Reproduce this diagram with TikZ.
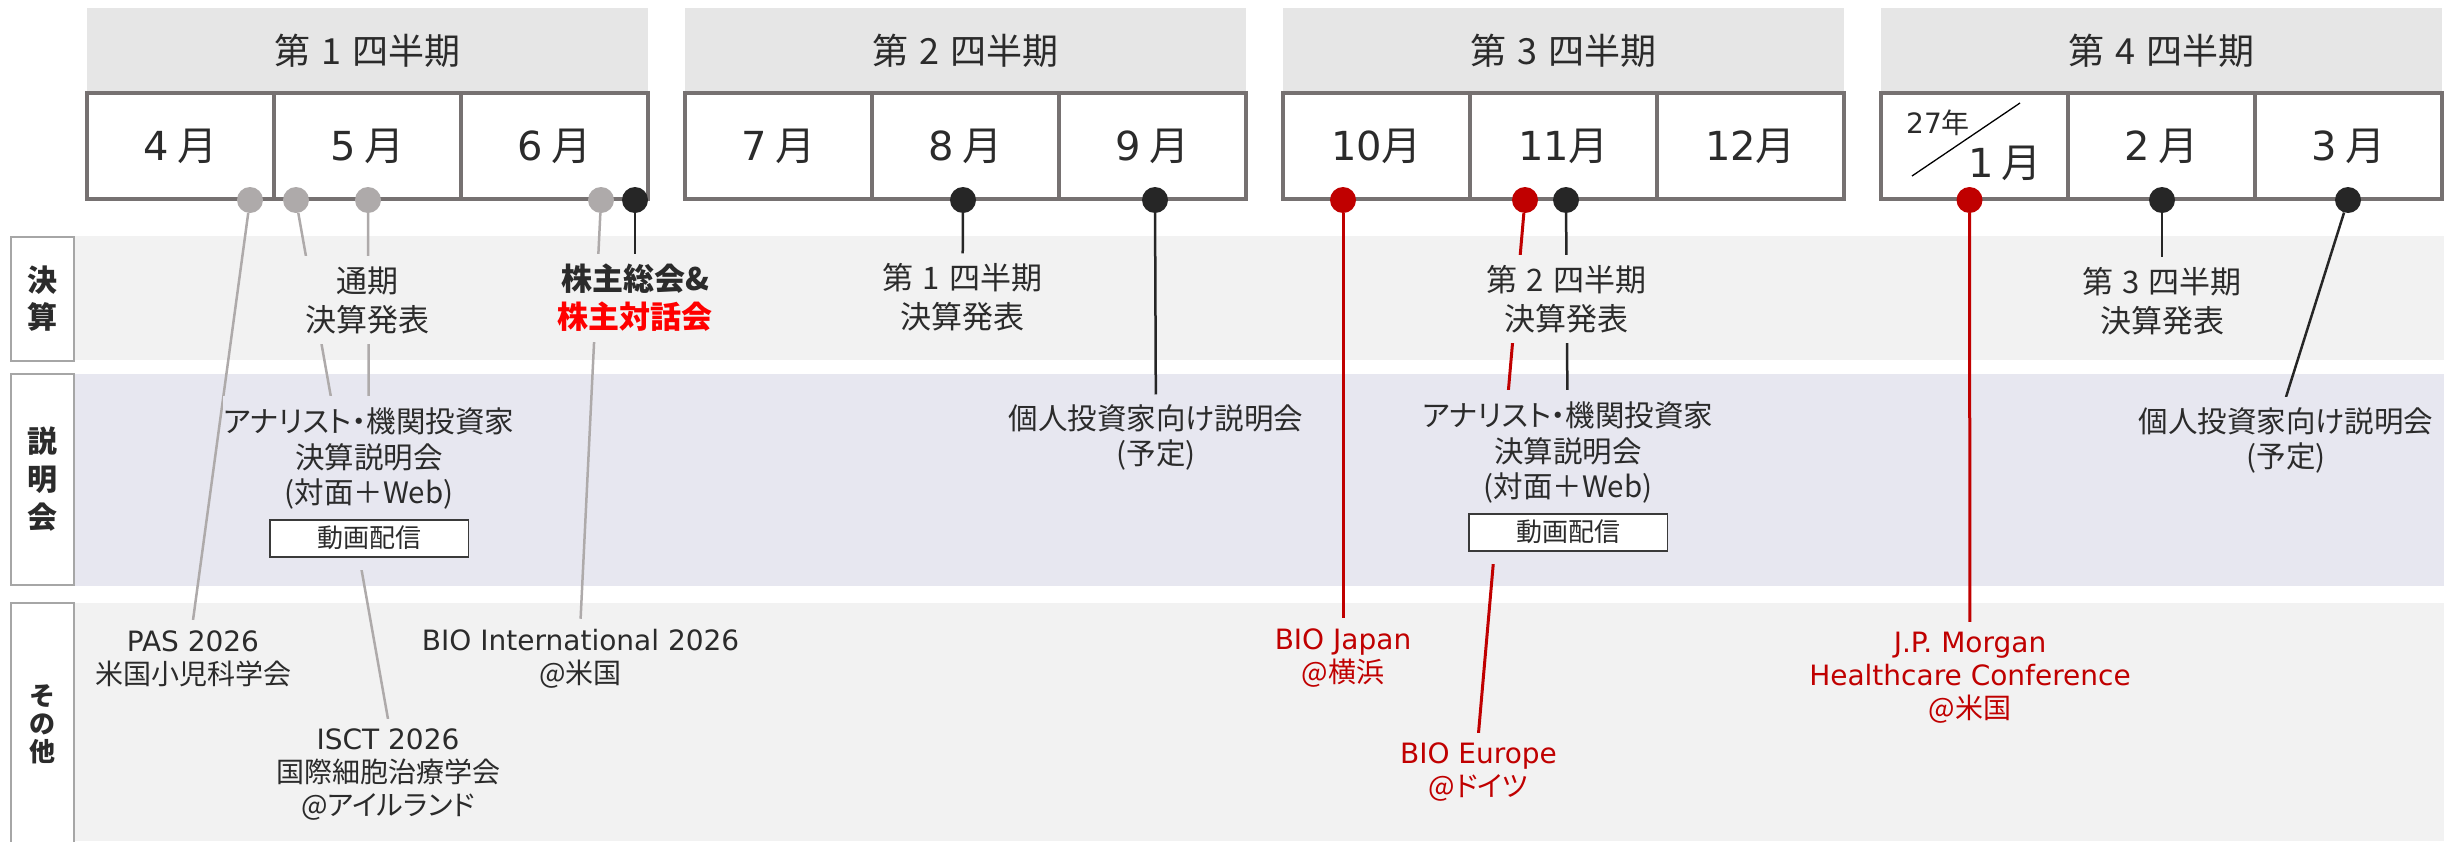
\documentclass[tikz,border=0pt]{standalone}
\usepackage{fontspec}
\setmainfont{Noto Sans CJK JP}[RawFeature=+palt]
\newfontfamily\lat{DejaVu Sans}

\definecolor{hdrgray}{HTML}{E6E6E6}
\definecolor{cellline}{HTML}{767171}
\definecolor{bandgray}{HTML}{F2F2F2}
\definecolor{bandblue}{HTML}{E7E7F0}
\definecolor{dotgray}{HTML}{AEAAAA}
\definecolor{dotblack}{HTML}{262626}
\definecolor{dotred}{HTML}{C00000}
\definecolor{kred}{HTML}{FF0000}
\definecolor{ink}{HTML}{2B2B2B}
\definecolor{boxline}{HTML}{A6A6A6}
\definecolor{boxdark}{HTML}{3A3A3A}

\pgfdeclarelayer{bands}
\pgfdeclarelayer{lines}
\pgfsetlayers{bands,lines,main}

\newcommand{\setfs}[2]{\fontsize{#1pt}{#2pt}\selectfont}
\newcommand{\douga}{\setlength{\fboxsep}{5.5pt}\setlength{\fboxrule}{1.5pt}%
  \fcolorbox{boxdark}{white}{\makebox[186pt]{\setfs{26}{30}\rule[-3pt]{0pt}{22pt}動画配信}}}

\begin{document}
\begin{tikzpicture}[x=1pt,y=-1pt]
	\tikzstyle{quarter}=[fill=hdrgray,minimum width=561pt,minimum height=85pt,inner sep=0pt,text=ink,font=\setfs{36}{40}]
	\tikzstyle{month}=[draw=cellline,line width=4pt,fill=white,minimum width=187pt,minimum height=106pt,inner sep=0pt,text=ink,font=\setfs{40}{44}]
	\tikzstyle{rowlab}=[draw=boxline,line width=1.7pt,fill=white,minimum width=63pt,inner sep=0pt,align=center,text=ink,font=\bfseries\setfs{30}{37}]
	\tikzstyle{gdot}=[circle,fill=dotgray,minimum size=26pt,inner sep=0pt]
	\tikzstyle{bdot}=[circle,fill=dotblack,minimum size=26pt,inner sep=0pt]
	\tikzstyle{rdot}=[circle,fill=dotred,minimum size=26pt,inner sep=0pt]
	\tikzstyle{kessan}=[fill=bandgray,align=center,inner sep=10pt,text=ink,font=\setfs{31}{39}]
	\tikzstyle{setsu}=[fill=bandblue,align=center,inner sep=10pt,text=ink,font=\setfs{29.5}{35}]
	\tikzstyle{other}=[fill=bandgray,align=center,inner sep=10pt,text=ink,font=\setfs{28}{33}]

	\useasboundingbox (0,0) rectangle (2453,841);

	% row bands
	\begin{pgfonlayer}{bands}
	\fill[bandgray] (74,236) rectangle (2444,360);
	\fill[bandblue] (74,374) rectangle (2444,586);
	\fill[bandgray] (74,603) rectangle (2444,841);
	\end{pgfonlayer}

	\node [rowlab,minimum height=124pt] (lab_kessan) at (42.5,299) {決\\算};
	\node [rowlab,minimum height=211pt,font=\bfseries\setfs{30}{38}] (lab_setsu) at (42.5,479.5) {説\\明\\会};
	\node [rowlab,minimum height=242pt,font=\bfseries\setfs{26}{28}] (lab_other) at (42.5,724) {そ\\の\\他};

	% quarters
	\node [quarter] (q1) at (367.5,50.5) {第\hspace{.3em}1\hspace{.3em}四半期};
	\node [quarter] (q2) at (965.5,50.5) {第\hspace{.3em}2\hspace{.3em}四半期};
	\node [quarter] (q3) at (1563.5,50.5) {第\hspace{.3em}3\hspace{.3em}四半期};
	\node [quarter] (q4) at (2161.5,50.5) {第\hspace{.3em}4\hspace{.3em}四半期};

	% months
	\node [month] (m4) at (180.5,146) {{\lat 4}\hspace{.2em}月};
	\node [month] (m5) at (367.5,146) {{\lat 5}\hspace{.2em}月};
	\node [month] (m6) at (554.5,146) {{\lat 6}\hspace{.2em}月};
	\node [month] (m7) at (778.5,146) {{\lat 7}\hspace{.2em}月};
	\node [month] (m8) at (965.5,146) {{\lat 8}\hspace{.2em}月};
	\node [month] (m9) at (1152.5,146) {{\lat 9}\hspace{.2em}月};
	\node [month] (m10) at (1376.5,146) {{\lat 10}月};
	\node [month] (m11) at (1563.5,146) {{\lat 11}月};
	\node [month] (m12) at (1750.5,146) {{\lat 12}月};
	\node [month] (m1) at (1974.5,146) {};
	\node [month] (m2) at (2161.5,146) {{\lat 2}\hspace{.2em}月};
	\node [month] (m3) at (2348.5,146) {{\lat 3}\hspace{.2em}月};
	\node [text=ink,font=\setfs{28}{30}] (y27) at (1938,123) {{\lat 27}年};
	\node [text=ink,font=\setfs{40}{44}] (m1_txt) at (2005,163) {{\lat 1}\hspace{.2em}月};
	\draw [black,line width=1.3pt] (1912,176) -- (2020,103);

	% event dots
	\node [gdot] (d4) at (250,200) {};
	\node [gdot] (d5a) at (296,200) {};
	\node [gdot] (d5b) at (368,200) {};
	\node [gdot] (d6a) at (601,200) {};
	\node [bdot] (d6b) at (635,200) {};
	\node [bdot] (d8) at (963,200) {};
	\node [bdot] (d9) at (1155,200) {};
	\node [rdot] (d10) at (1343,200) {};
	\node [rdot] (d11a) at (1525,200) {};
	\node [bdot] (d11b) at (1566,200) {};
	\node [rdot] (d1) at (1969.5,200) {};
	\node [bdot] (d2) at (2162,200) {};
	\node [bdot] (d3) at (2348,200) {};

	% kessan row
	\node [kessan] (tsuuki) at (367,300) {通期\\決算発表};
	\node [kessan,font=\bfseries\setfs{31}{38}] (kabu) at (635,298) {株主総会\&\\\textcolor{kred}{株主対話会}};
	\node [kessan] (q1res) at (962.5,297.5) {第\hspace{.3em}1\hspace{.3em}四半期\\決算発表};
	\node [kessan] (q2res) at (1566.5,299) {第\hspace{.3em}2\hspace{.3em}四半期\\決算発表};
	\node [kessan] (q3res) at (2162,301) {第\hspace{.3em}3\hspace{.3em}四半期\\決算発表};

	% setsumeikai row
	\node [setsu,anchor=north,inner xsep=1pt,inner ysep=12pt] (an1) at (369,396) {アナリスト・機関投資家\\[1pt]決算説明会\\(対面＋Web)\\[9pt]\douga};
	\node [setsu,anchor=north,inner xsep=1pt,inner ysep=12pt] (an3) at (1568,390) {アナリスト・機関投資家\\[1pt]決算説明会\\(対面＋Web)\\[9pt]\douga};
	\node [setsu] (kojin1) at (1156,437.5) {個人投資家向け説明会\\(予定)};
	\node [setsu] (kojin2) at (2286,440) {個人投資家向け説明会\\(予定)};

	% other row
	\node [other] (pas) at (193,658.5) {{\lat PAS 2026}\\米国小児科学会};
	\node [other] (bioint) at (580.6,658.5) {{\lat BIO International 2026}\\@米国};
	\node [other] (isct) at (388,775) {{\lat ISCT 2026}\\国際細胞治療学会\\@アイルランド};
	\node [other,text=dotred] (biojp) at (1343,658) {{\lat BIO Japan}\\@横浜};
	\node [other,text=dotred] (bioeu) at (1478.5,772.5) {{\lat BIO Europe}\\@ドイツ};
	\node [other,text=dotred] (jpm) at (1970,678) {{\lat J.P. Morgan}\\{\lat Healthcare Conference}\\@米国};

	\begin{pgfonlayer}{lines}
	\foreach \source/\dest in {d4/pas.north,d5a/isct.north,d5b/an1,d6a/bioint.north}
	  \draw [dotgray,line width=2.5pt] (\source) -- (\dest);
	\foreach \source/\dest in {d6b/kabu,d8/q1res,d9/kojin1,d11b/an3,d2/q3res,d3/kojin2.north}
	  \draw [dotblack,line width=2.5pt] (\source) -- (\dest);
	\foreach \source/\dest in {d10/biojp,d11a/bioeu.north,d1/jpm}
	  \draw [dotred,line width=3pt] (\source) -- (\dest);
	\end{pgfonlayer}
\end{tikzpicture}
\end{document}
